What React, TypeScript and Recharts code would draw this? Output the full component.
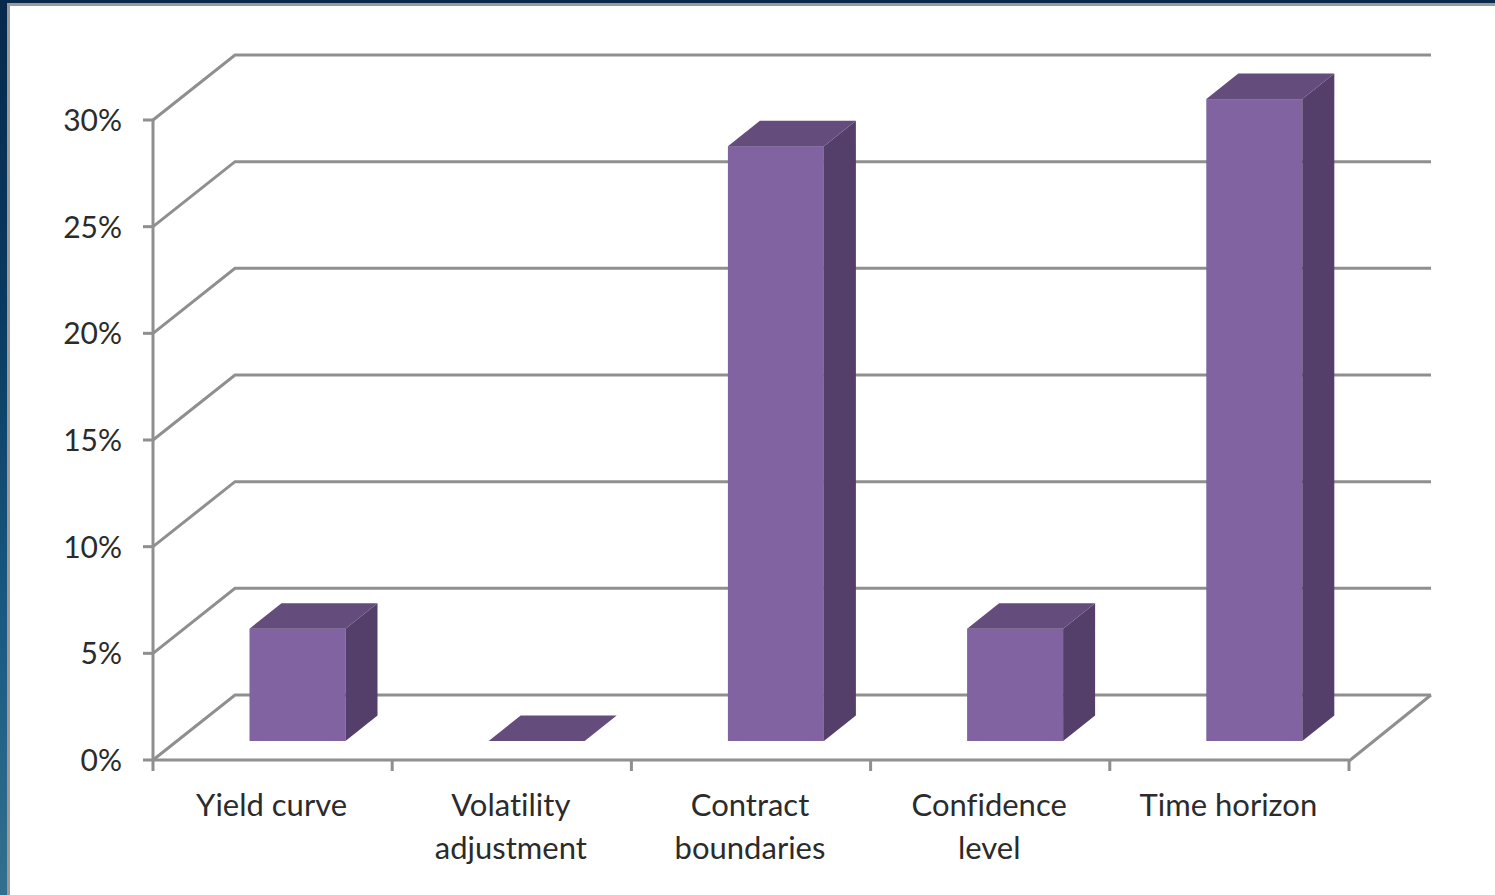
import React from "react";
import { BarChart, Bar, XAxis, YAxis, CartesianGrid } from "recharts";

// Survey results by assumption area
const categories = ["Yield curve", "Volatility adjustment", "Contract boundaries", "Confidence level", "Time horizon"];
const labelLines = [["Yield curve"], ["Volatility", "adjustment"], ["Contract", "boundaries"], ["Confidence", "level"], ["Time horizon"]];
const shares = [5.25, 0, 27.8, 5.25, 30];
const yTicks = [0, 5, 10, 15, 20, 25, 30];

const rows = categories.map((name, i) => ({ name, share: shares[i] }));

const WIDTH = 1495;
const HEIGHT = 895;
const PLOT_LEFT = 153;
const PLOT_RIGHT = 1349;
const PLOT_TOP = 120;
const PLOT_BOTTOM = 760;
const BAND = (PLOT_RIGHT - PLOT_LEFT) / categories.length;

// Oblique projection of the chart box
const WALL_DX = 82;
const WALL_DY = 65;
const BAR_SHIFT_X = 24.5;
const BAR_SHIFT_Y = 19;
const BAR_DX = 32;
const BAR_DY = 25.5;
const BAR_SCALE = 1.003;

const GRID = "#8f8f8f";
const LINE_WIDTH = 3;
const TEXT = "#2b2b2b";
const FONT = "Lato, Carlito, sans-serif";
const FRONT = "#8063a0";
const TOP = "#644c7c";
const SIDE = "#533f6a";

const labelStyle: React.CSSProperties = { fontVariantLigatures: "none" };

// One gridline folded from the left wall onto the back wall; the lowest also closes the floor
function wallLine(props: any) {
  const y = props.y1;
  const backY = y - WALL_DY;
  const backX = PLOT_LEFT + WALL_DX;
  const rightX = PLOT_RIGHT + WALL_DX;
  const isFloor = Math.abs(y - PLOT_BOTTOM) < 1;
  return (
    <g key={`wall-${y}`}>
      <path d={`M${PLOT_LEFT},${y} L${backX},${backY} L${rightX},${backY}`} fill="none" stroke={GRID} strokeWidth={LINE_WIDTH} />
      {isFloor && <path d={`M${rightX},${backY} L${PLOT_RIGHT},${y + 1}`} fill="none" stroke={GRID} strokeWidth={LINE_WIDTH} />}
    </g>
  );
}

function ValueTick(props: any) {
  const { y, payload } = props;
  return (
    <g>
      <line x1={PLOT_LEFT - 10} x2={PLOT_LEFT} y1={y} y2={y} stroke={GRID} strokeWidth={LINE_WIDTH} />
      <text x={PLOT_LEFT - 31} y={y + 11} textAnchor="end" fontFamily={FONT} fontSize={30} fill={TEXT} style={labelStyle}>
        {`${payload.value}%`}
      </text>
    </g>
  );
}

function CategoryTick(props: any) {
  const { x, index, payload } = props;
  const left = x - BAND / 2;
  const right = x + BAND / 2;
  const lines = labelLines[categories.indexOf(payload.value)];
  return (
    <g>
      <line x1={left} x2={left} y1={PLOT_BOTTOM} y2={PLOT_BOTTOM + 11} stroke={GRID} strokeWidth={LINE_WIDTH} />
      {index === categories.length - 1 && (
        <line x1={right} x2={right} y1={PLOT_BOTTOM} y2={PLOT_BOTTOM + 11} stroke={GRID} strokeWidth={LINE_WIDTH} />
      )}
      {lines.map((line: string, i: number) => (
        <text key={line} x={x - 1} y={PLOT_BOTTOM + 56 + i * 43} textAnchor="middle" fontFamily={FONT} fontSize={31} fill={TEXT} style={labelStyle}>
          {line}
        </text>
      ))}
    </g>
  );
}

// Front, top and side faces of one column, set part way into the floor
function Column3D(props: any) {
  const { x, y, width, height } = props;
  const h = height * BAR_SCALE;
  const left = x + BAR_SHIFT_X;
  const right = left + width;
  const bottom = y + height - BAR_SHIFT_Y;
  const top = bottom - h;
  return (
    <g>
      {h > 0 && <rect x={left} y={top} width={width} height={h} fill={FRONT} />}
      {h > 0 && (
        <path
          d={`M${right},${top} L${right + BAR_DX},${top - BAR_DY} L${right + BAR_DX},${bottom - BAR_DY} L${right},${bottom} Z`}
          fill={SIDE}
        />
      )}
      <path
        d={`M${left},${top} L${left + BAR_DX},${top - BAR_DY} L${right + BAR_DX},${top - BAR_DY} L${right},${top} Z`}
        fill={TOP}
      />
    </g>
  );
}

export default function App() {
  return (
    <div
      style={{
        position: "fixed",
        left: 0,
        top: 0,
        width: WIDTH,
        height: HEIGHT,
        overflow: "hidden",
        background: "linear-gradient(180deg, #06294c 0%, #0a3a60 35%, #1a5a82 70%, #33708f 100%)",
      }}
    >
      <div
        style={{
          position: "absolute",
          left: 7,
          top: 3,
          right: 0,
          bottom: 0,
          background: "#ffffff",
          borderLeft: "3px solid #9a9a9a",
          borderTop: "3px solid #9a9a9a",
        }}
      />
      <div style={{ position: "absolute", left: 0, top: 0 }}>
        <BarChart
          width={WIDTH}
          height={HEIGHT}
          data={rows}
          margin={{ top: PLOT_TOP, bottom: 0, left: 0, right: WIDTH - PLOT_RIGHT }}
          barCategoryGap={0}
        >
          <CartesianGrid vertical={false} horizontal={wallLine} syncWithTicks />
          <YAxis
            width={PLOT_LEFT}
            domain={[0, 30]}
            ticks={yTicks}
            interval={0}
            tick={<ValueTick />}
            tickLine={false}
            axisLine={{ stroke: GRID, strokeWidth: LINE_WIDTH }}
          />
          <XAxis
            dataKey="name"
            height={HEIGHT - PLOT_BOTTOM}
            interval={0}
            tick={<CategoryTick />}
            tickLine={false}
            axisLine={{ stroke: GRID, strokeWidth: LINE_WIDTH }}
          />
          <Bar dataKey="share" barSize={96} shape={<Column3D />} isAnimationActive={false} />
        </BarChart>
      </div>
    </div>
  );
}
